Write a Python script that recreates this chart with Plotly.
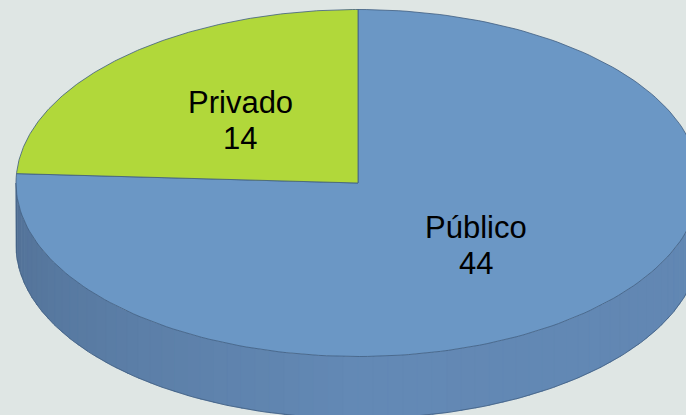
import numpy as np
import plotly.graph_objects as go

# ---- data ----
categories = ["Público", "Privado"]
values = [44, 14]
slice_colors = ["#6b97c5", "#b1d83a"]

# ---- geometry / style ----
W, H = 686, 415
cx, cy, rx, ry, depth = 358, 183, 342, 173.5, 62
bg = "#dfe6e4"
edge = "#3f5d80"

total = float(sum(values))


def ex(t):
    return cx + rx * np.cos(t)


def ey(t):
    return cy - ry * np.sin(t)


fig = go.Figure()

# ---- side band (front half), shaded strips ----
n = 72
th = np.linspace(np.pi, 2 * np.pi, n + 1)
dark = np.array([82, 113, 150])
mid = np.array([99, 137, 181])
right = np.array([97, 134, 178])


def shade(t):
    u = (t - np.pi) / np.pi
    if u < 0.5:
        c = dark + (mid - dark) * (u / 0.5)
    else:
        c = mid + (right - mid) * ((u - 0.5) / 0.5)
    return "rgb(%d,%d,%d)" % tuple(np.round(c).astype(int))


for i in range(n):
    t0, t1 = th[i], th[i + 1] + 0.004
    xs = [ex(t0), ex(t1), ex(t1), ex(t0), ex(t0)]
    ys = [ey(t0), ey(t1), ey(t1) + depth, ey(t0) + depth, ey(t0)]
    col = shade((t0 + th[i + 1]) / 2)
    fig.add_trace(go.Scatter(x=xs, y=ys, mode="lines", fill="toself",
                             fillcolor=col, line=dict(width=0.5, color=col),
                             hoverinfo="skip"))

# side outline
tb = np.linspace(np.pi, 2 * np.pi, 200)
ox = np.concatenate([[ex(np.pi)], ex(tb), [ex(2 * np.pi)]])
oy = np.concatenate([[ey(np.pi)], ey(tb) + depth, [ey(2 * np.pi)]])
fig.add_trace(go.Scatter(x=ox, y=oy, mode="lines",
                         line=dict(width=0.8, color=edge), hoverinfo="skip"))

# ---- top slices ----
start = np.pi / 2
ann = []
lab_font = dict(family="Liberation Sans", size=31, color="#000000")
for cat, val, col in zip(categories, values, slice_colors):
    sweep = 2 * np.pi * val / total
    ts = np.linspace(start, start - sweep, 200)
    xs = np.concatenate([[cx], ex(ts), [cx]])
    ys = np.concatenate([[cy], ey(ts), [cy]])
    fig.add_trace(go.Scatter(x=xs, y=ys, mode="lines", fill="toself",
                             fillcolor=col, line=dict(width=0.8, color=edge),
                             hoverinfo="skip"))
    tm = start - sweep / 2
    lx = cx + 0.5 * rx * np.cos(tm)
    ly = cy - 0.5 * ry * np.sin(tm)
    ann.append(dict(x=lx, y=ly, xref="x", yref="y", showarrow=False,
                    text=cat, yanchor="middle", yshift=18, font=lab_font))
    ann.append(dict(x=lx, y=ly, xref="x", yref="y", showarrow=False,
                    text=str(val), yanchor="middle", yshift=-18, font=lab_font))
    start -= sweep

fig.update_layout(
    width=W, height=H,
    margin=dict(l=0, r=0, t=0, b=0),
    paper_bgcolor=bg, plot_bgcolor=bg,
    showlegend=False,
    annotations=ann,
    xaxis=dict(range=[0, W], visible=False, fixedrange=True),
    yaxis=dict(range=[H, 0], visible=False, fixedrange=True),
)

fig.write_html(
    "out.html",
    config={"displayModeBar": False},
    post_script="document.body.style.margin='0';document.body.style.overflow='hidden';",
)
